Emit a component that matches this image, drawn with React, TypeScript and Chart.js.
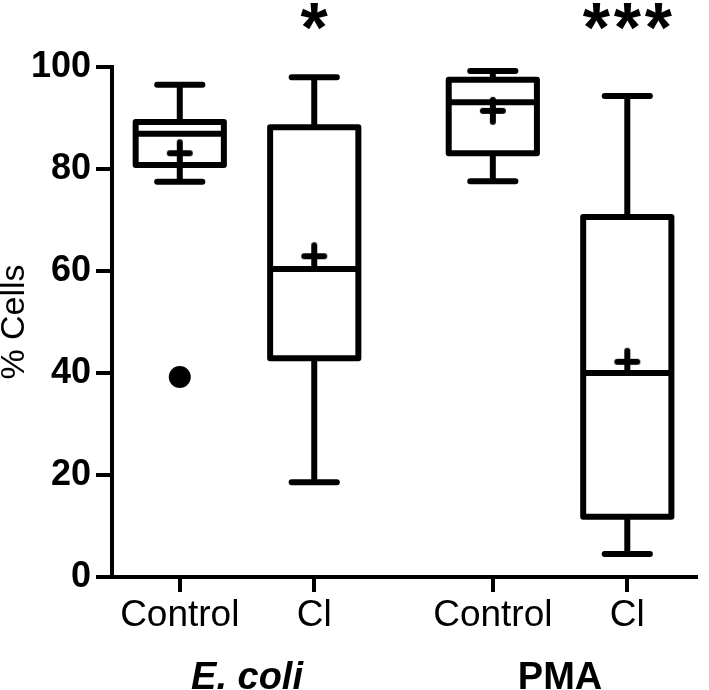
import React, { useEffect, useRef } from 'react';
import { Chart, registerables } from 'chart.js';
Chart.register(...registerables);

const categories = ['Control', 'Cl', 'Control', 'Cl'];
const groupLabels = ['E. coli', 'PMA'];
const xPositions = [1, 2, 3.328, 4.328];
const whiskerLow = [77.5, 18.6, 77.6, 4.5];
const q1 = [80.8, 42.9, 83.1, 11.8];
const median = [86.9, 60.4, 93.1, 40.0];
const q3 = [89.2, 88.2, 97.5, 70.6];
const whiskerHigh = [96.5, 98.0, 99.2, 94.3];
const means = [83.1, 62.9, 91.4, 42.2];
const outlierCategory = [0];
const outlierValue = [39.2];
const significance = ['', '*', '', '***'];
const yTicks = [0, 20, 40, 60, 80, 100];

const FONT = "'Liberation Sans', Arial, sans-serif";
const BOX_HALF = 0.328;
const CAP_HALF = 0.168;
const LW = 6;

function makePlus(): HTMLCanvasElement {
  const c = document.createElement('canvas');
  c.width = 30;
  c.height = 30;
  const g = c.getContext('2d')!;
  g.strokeStyle = '#000';
  g.lineWidth = LW;
  g.lineCap = 'round';
  g.beginPath();
  g.moveTo(5, 15);
  g.lineTo(25, 15);
  g.moveTo(15, 4);
  g.lineTo(15, 26);
  g.stroke();
  return c;
}

const boxPlugin = {
  id: 'boxPlugin',
  beforeDatasetsDraw(chart: any) {
    const ctx = chart.ctx;
    const xs = chart.scales.x;
    const ys = chart.scales.y;
    ctx.save();
    ctx.strokeStyle = '#000';
    ctx.lineWidth = LW;
    ctx.lineJoin = 'round';
    for (let i = 0; i < categories.length; i++) {
      const xc = xs.getPixelForValue(xPositions[i]);
      const xl = xs.getPixelForValue(xPositions[i] - BOX_HALF);
      const xr = xs.getPixelForValue(xPositions[i] + BOX_HALF);
      const cl = xs.getPixelForValue(xPositions[i] - CAP_HALF);
      const cr = xs.getPixelForValue(xPositions[i] + CAP_HALF);
      const yq1 = ys.getPixelForValue(q1[i]);
      const yq3 = ys.getPixelForValue(q3[i]);
      const ymed = ys.getPixelForValue(median[i]);
      const ylo = ys.getPixelForValue(whiskerLow[i]);
      const yhi = ys.getPixelForValue(whiskerHigh[i]);
      ctx.lineCap = 'butt';
      ctx.beginPath();
      ctx.moveTo(xc, yq3);
      ctx.lineTo(xc, yhi);
      ctx.moveTo(xc, yq1);
      ctx.lineTo(xc, ylo);
      ctx.stroke();
      ctx.lineCap = 'round';
      ctx.beginPath();
      ctx.moveTo(cl, yhi);
      ctx.lineTo(cr, yhi);
      ctx.moveTo(cl, ylo);
      ctx.lineTo(cr, ylo);
      ctx.stroke();
      ctx.fillStyle = '#fff';
      ctx.fillRect(xl, yq3, xr - xl, yq1 - yq3);
      ctx.strokeRect(xl, yq3, xr - xl, yq1 - yq3);
      ctx.lineCap = 'butt';
      ctx.beginPath();
      ctx.moveTo(xl, ymed);
      ctx.lineTo(xr, ymed);
      ctx.stroke();
    }
    ctx.restore();
  },
  afterDraw(chart: any) {
    const ctx = chart.ctx;
    const xs = chart.scales.x;
    ctx.save();
    ctx.fillStyle = '#000';
    ctx.textAlign = 'center';
    ctx.textBaseline = 'alphabetic';
    ctx.font = `bold 70px ${FONT}`;
    const step = 31;
    for (let i = 0; i < significance.length; i++) {
      const n = significance[i].length;
      if (!n) continue;
      const xc = xs.getPixelForValue(xPositions[i]);
      for (let k = 0; k < n; k++) {
        ctx.fillText('*', xc + (k - (n - 1) / 2) * step, 52);
      }
    }
    for (let g = 0; g < groupLabels.length; g++) {
      const xc = (xs.getPixelForValue(xPositions[g * 2]) + xs.getPixelForValue(xPositions[g * 2 + 1])) / 2;
      ctx.font = g === 0 ? `italic bold 38px ${FONT}` : `bold 38px ${FONT}`;
      ctx.fillText(groupLabels[g], xc, 689);
    }
    ctx.restore();
  },
};

export default function App() {
  const ref = useRef<HTMLCanvasElement>(null);
  useEffect(() => {
    document.body.style.margin = '0';
    const canvas = ref.current!;
    const plus = makePlus();
    const chart = new Chart(canvas, {
      type: 'scatter',
      data: {
        datasets: [
          {
            label: 'mean',
            data: means.map((m, i) => ({ x: xPositions[i], y: m })),
            pointStyle: plus,
            pointRadius: 13,
            borderWidth: 0,
            borderColor: '#000',
            backgroundColor: '#000',
          },
          {
            label: 'outlier',
            data: outlierCategory.map((c, i) => ({ x: xPositions[c], y: outlierValue[i] })),
            pointStyle: 'circle',
            pointRadius: 11,
            borderWidth: 0,
            backgroundColor: '#000',
            borderColor: '#000',
          },
        ],
      },
      options: {
        animation: false,
        responsive: false,
        events: [],
        layout: { padding: { top: 67, right: 2, left: 0, bottom: 0 } },
        plugins: { legend: { display: false }, tooltip: { enabled: false } },
        scales: {
          x: {
            type: 'linear',
            min: 0.496,
            max: 4.839,
            afterBuildTicks: (s: any) => {
              s.ticks = xPositions.map((v) => ({ value: v }));
            },
            afterFit: (s: any) => {
              s.height = 113;
              s.paddingLeft = 0;
              s.paddingRight = 0;
            },
            ticks: {
              autoSkip: false,
              maxRotation: 0,
              color: '#000',
              padding: 2,
              font: { family: FONT, size: 37 },
              callback: (_v: any, i: number) => categories[i],
            },
            grid: { drawOnChartArea: false, drawTicks: true, tickLength: 15, lineWidth: 4, color: '#000' },
            border: { display: true, width: 4, color: '#000' },
          },
          y: {
            min: 0,
            max: 100,
            afterBuildTicks: (s: any) => {
              s.ticks = yTicks.map((v) => ({ value: v }));
            },
            afterFit: (s: any) => {
              s.width = 112;
              s.paddingTop = 0;
              s.paddingBottom = 0;
            },
            ticks: {
              color: '#000',
              padding: 5,
              font: { family: FONT, size: 36, weight: 'bold' },
            },
            grid: { drawOnChartArea: false, drawTicks: true, tickLength: 16, lineWidth: 4, color: '#000' },
            border: { display: true, width: 4, color: '#000' },
            title: {
              display: true,
              text: '% Cells',
              color: '#000',
              padding: { top: 0, bottom: 0 },
              font: { family: FONT, size: 34, weight: 'normal', lineHeight: 0.85 },
            },
          },
        },
      },
      plugins: [boxPlugin],
    } as any);
    return () => chart.destroy();
  }, []);
  return <canvas ref={ref} width={709} height={690} style={{ display: 'block', width: 709, height: 690 }} />;
}
